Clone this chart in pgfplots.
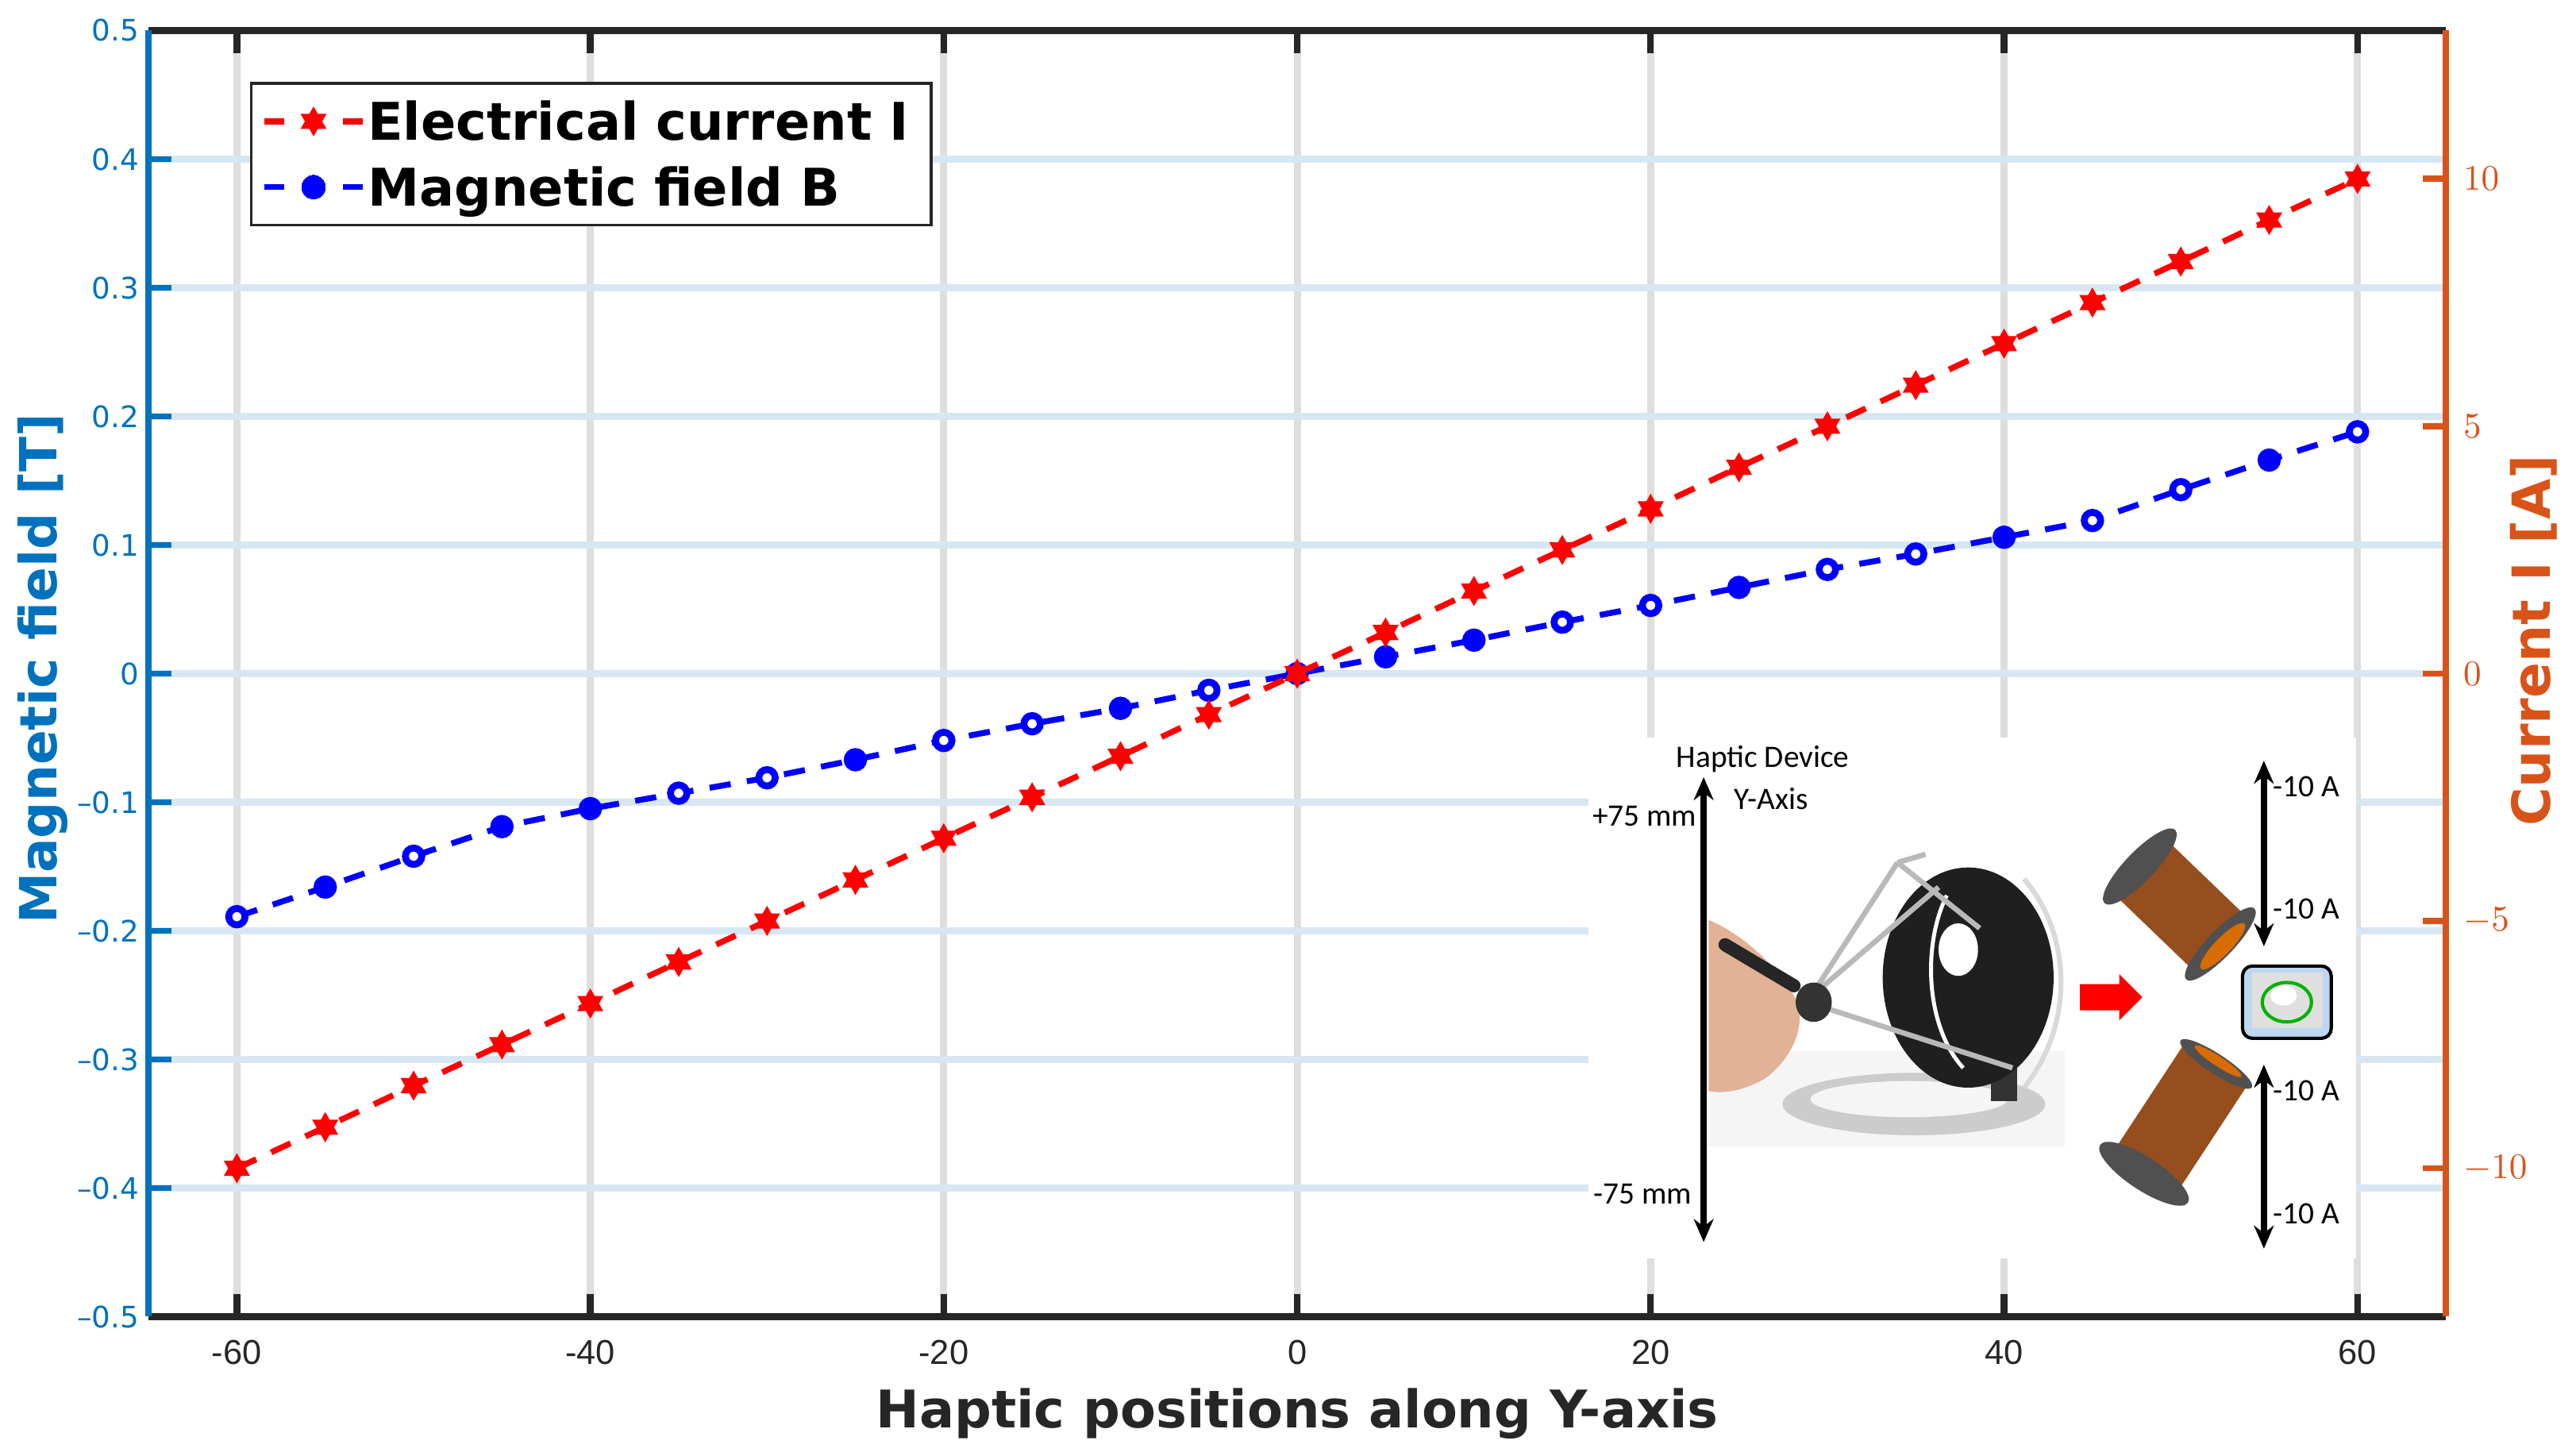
\documentclass[border=0pt]{standalone}
\usepackage{pgfplots}
\pgfplotsset{compat=1.18}
\usepackage{pgfplotstable}
\usepackage{fontspec}
\usetikzlibrary{arrows.meta}
\newfontfamily\dejavu{DejaVu Sans}
\newfontfamily\libsans{Liberation Sans}
\newfontfamily\carlito{Carlito}
\definecolor{mblue}{RGB}{0,114,189}
\definecolor{morange}{RGB}{217,83,25}
\definecolor{dark}{RGB}{38,38,38}
\definecolor{gridblue}{RGB}{215,231,242}
\definecolor{gridgray}{RGB}{222,222,222}
\definecolor{skin}{RGB}{226,178,150}
\definecolor{copper}{RGB}{150,78,30}
\definecolor{capgray}{RGB}{80,80,80}

\pgfdeclareplotmark{hexstar}{%
  \pgfpathmoveto{\pgfpointpolar{90}{\pgfplotmarksize}}%
  \pgfpathlineto{\pgfpointpolar{210}{\pgfplotmarksize}}%
  \pgfpathlineto{\pgfpointpolar{330}{\pgfplotmarksize}}%
  \pgfpathclose
  \pgfpathmoveto{\pgfpointpolar{270}{\pgfplotmarksize}}%
  \pgfpathlineto{\pgfpointpolar{30}{\pgfplotmarksize}}%
  \pgfpathlineto{\pgfpointpolar{150}{\pgfplotmarksize}}%
  \pgfpathclose
  \pgfusepathqfill}

\pgfplotstableread{
x B c
-60 -0.189 o
-55 -0.166 f
-50 -0.142 o
-45 -0.119 f
-40 -0.105 f
-35 -0.093 o
-30 -0.081 o
-25 -0.067 f
-20 -0.052 o
-15 -0.039 o
-10 -0.027 f
-5 -0.013 o
0 0 f
5 0.013 f
10 0.026 f
15 0.040 o
20 0.053 o
25 0.067 f
30 0.081 o
35 0.093 o
40 0.106 f
45 0.119 o
50 0.143 o
55 0.166 f
60 0.188 o
}\Bdata

\pgfplotstableread{
x I
-60 -10
-55 -9.17
-50 -8.33
-45 -7.5
-40 -6.67
-35 -5.83
-30 -5
-25 -4.17
-20 -3.33
-15 -2.5
-10 -1.67
-5 -0.83
0 0
5 0.83
10 1.67
15 2.5
20 3.33
25 4.17
30 5
35 5.83
40 6.67
45 7.5
50 8.33
55 9.17
60 10
}\Idata

\begin{document}
\begin{tikzpicture}
\useasboundingbox (0,0) rectangle (784pt,443.1pt);
\begin{axis}[
  at={(45.2pt,42.4pt)}, anchor=south west,
  scale only axis, width=699.2pt, height=391.4pt,
  xmin=-65, xmax=65, ymin=-0.5, ymax=0.5,
  xtick={-60,-40,-20,0,20,40,60},
  xticklabels={-60,-40,-20,0,20,40,60},
  ytick={-0.5,-0.4,-0.3,-0.2,-0.1,0,0.1,0.2,0.3,0.4,0.5},
  yticklabels={–0.5,–0.4,–0.3,–0.2,–0.1,0,0.1,0.2,0.3,0.4,0.5},
  ytick pos=left, xtick pos=both,
  tick align=inside, major tick length=7pt,
  xmajorgrids, ymajorgrids,
  x grid style={gridgray, line width=2.2pt},
  y grid style={gridblue, line width=2pt},
  separate axis lines,
  x axis line style={dark, line width=2pt},
  y axis line style={mblue, line width=1.8pt},
  x tick style={dark, line width=2pt},
  y tick style={mblue, line width=1.9pt},
  xticklabel style={font=\libsans\fontsize{10.5}{12}\selectfont, text=dark, inner sep=0pt, yshift=-7pt},
  yticklabel style={font=\dejavu\fontsize{9}{11}\selectfont, text=mblue, inner sep=0pt, xshift=-2.7pt},
  xlabel={Haptic positions along Y-axis},
  xlabel style={at={(axis description cs:0.5,-0.0752)}, anchor=center, font=\dejavu\bfseries\fontsize{15.8}{18}\selectfont, text=dark},
  ylabel={Magnetic field [T]},
  ylabel style={at={(axis description cs:-0.0461,0.5038)}, anchor=center, font=\dejavu\bfseries\fontsize{15.6}{18}\selectfont, text=mblue},
  legend cell align=left,
  legend style={at={(axis description cs:0.0441,0.960)}, anchor=north west, draw=dark, line width=0.9pt, fill=white, inner xsep=3pt, inner ysep=5.2pt, row sep=7.3pt, font=\dejavu\bfseries\fontsize{15.8}{18}\selectfont, nodes={inner sep=0pt, text height=12pt, text depth=0.7pt, text width=168.5pt, anchor=west}, /tikz/every odd column/.append style={column sep=0.5pt}},
  legend image code/.code={\draw[#1, mark repeat=2, mark phase=2, dash pattern=on 6.1pt off 17.9pt on 6.1pt off 10pt] plot coordinates {(0pt,0pt) (15.05pt,0pt) (30.1pt,0pt)};},
]
\addlegendimage{red, line width=1.8pt, mark=hexstar, mark size=4.55pt, mark options={solid}}
\addlegendentry{Electrical current I}
\addlegendimage{blue, line width=1.8pt, mark=*, mark size=3.6pt, mark options={solid, line width=0pt}}
\addlegendentry{Magnetic field B}
\addplot[forget plot, blue, line width=1.8pt, dash pattern=on 6.5pt off 5pt] table[x=x,y=B]{\Bdata};
\addplot[forget plot, only marks, scatter, scatter src=explicit symbolic,
  scatter/classes={o={mark=*, draw=blue, fill=white}, f={mark=*, draw=blue, fill=blue}},
  mark size=2.5pt, mark options={line width=2.1pt, solid}] table[x=x,y=B,meta=c]{\Bdata};
\end{axis}
\begin{axis}[
  at={(45.2pt,42.4pt)}, anchor=south west,
  scale only axis, width=699.2pt, height=391.4pt,
  xmin=-65, xmax=65, ymin=-13, ymax=13,
  axis x line=none,
  axis y line=right,
  ytick={-10,-5,0,5,10},
  tick align=inside, major tick length=7pt,
  y axis line style={morange, line width=1.8pt, -},
  y tick style={morange, line width=1.9pt},
  yticklabel style={font=\fontsize{11}{13}\selectfont, text=morange, inner sep=0pt, xshift=5.1pt},
  ylabel={Current I [A]},
  ylabel style={at={(axis description cs:1.0383,0.5256)}, anchor=center, font=\dejavu\bfseries\fontsize{16}{18}\selectfont, text=morange},
]
\addplot[forget plot, red, line width=1.8pt, dash pattern=on 6.5pt off 5pt, mark=hexstar, mark size=4.6pt, mark options={solid}] table[x=x,y=I]{\Idata};
\end{axis}
% inset illustration
\begin{scope}[x=0.5pt,y=-0.5pt,shift={(0pt,443.1pt)}]
\fill[white] (967,449) rectangle (1434,766);
% photo background
\fill[gray!8] (1040,640) rectangle (1257,698);
% base of device
\fill[gray!40] (1165,672) ellipse (80 and 19);
\fill[gray!8] (1162,669) ellipse (60 and 11);
\fill[black!80] (1212,628) rectangle (1228,670);
% ring
\fill[black!88] (1198,595) ellipse (52 and 67);
\fill[white] (1192,578) ellipse (12 and 16);
\draw[gray!30, line width=1.5pt] (1232,535) .. controls (1262,570) and (1262,625) .. (1232,662);
\draw[white, line width=1.2pt] (1185,545) .. controls (1170,575) and (1172,625) .. (1195,650);
% arms
\draw[gray!55, line width=1.6pt] (1100,610)--(1155,525) (1155,525)--(1205,565) (1100,610)--(1225,650) (1110,600)--(1180,540) (1155,525)--(1172,520);
% hand
\fill[skin] (1040,560) .. controls (1060,568) and (1085,590) .. (1095,612) .. controls (1098,630) and (1088,646) .. (1075,656) .. controls (1062,664) and (1048,666) .. (1040,664) -- cycle;
\draw[black!85, line width=4pt, line cap=round] (1050,575) -- (1092,600);
\fill[black!80] (1104,610) ellipse (11 and 12);
% red arrow
\fill[red] (1266,599) -- (1290,599) -- (1290,593) -- (1304,607) -- (1290,621) -- (1290,615) -- (1266,615) -- cycle;
% coils
\begin{scope}[shift={(1327,551)}, rotate=-43.9]
  \fill[copper] (-32,-23) rectangle (32,23);
  \fill[capgray] (-34,0) ellipse (9 and 31);
  \fill[capgray] (34,0) ellipse (8 and 30);
  \fill[orange!85!black] (36,0) ellipse (5 and 19);
\end{scope}
\begin{scope}[shift={(1327,681)}, rotate=-123.3]
  \fill[copper] (-38,-23) rectangle (38,23);
  \fill[capgray] (-40,0) ellipse (6 and 26);
  \fill[orange!85!black] (-42,0) ellipse (3 and 17);
  \fill[capgray] (40,0) ellipse (10 and 32);
\end{scope}
% screen icon
\draw[black, line width=1pt, fill={rgb,255:red,190;green,215;blue,240}, rounded corners=3pt] (1365,588) rectangle (1419,632);
\fill[gray!25] (1371,592) rectangle (1414,626);
\draw[green!70!black, line width=1pt] (1392,610) ellipse (15 and 12);
\fill[white] (1390,606) ellipse (8 and 6);
% arrows
\draw[line width=1.8pt, {Stealth[length=7pt,width=6pt]}-{Stealth[length=7pt,width=6pt]}] (1037,473) -- (1037,756);
\draw[line width=1.8pt, {Stealth[length=7pt,width=6pt]}-{Stealth[length=7pt,width=6pt]}] (1378,463) -- (1378,576);
\draw[line width=1.8pt, {Stealth[length=7pt,width=6pt]}-{Stealth[length=7pt,width=6pt]}] (1378,648) -- (1378,760);
% texts
\begin{scope}[every node/.style={font=\carlito\fontsize{9.5}{11}\selectfont, inner sep=0pt}]
\node at (1073,462) {Haptic Device};
\node at (1078,486) {Y-Axis};
\node at (1001,497) {+75 mm};
\node at (1000,727) {-75 mm};
\node at (1404,479) {-10 A};
\node at (1404,553) {-10 A};
\node at (1404,664) {-10 A};
\node at (1404,739) {-10 A};
\end{scope}
\end{scope}
\end{tikzpicture}
\end{document}
